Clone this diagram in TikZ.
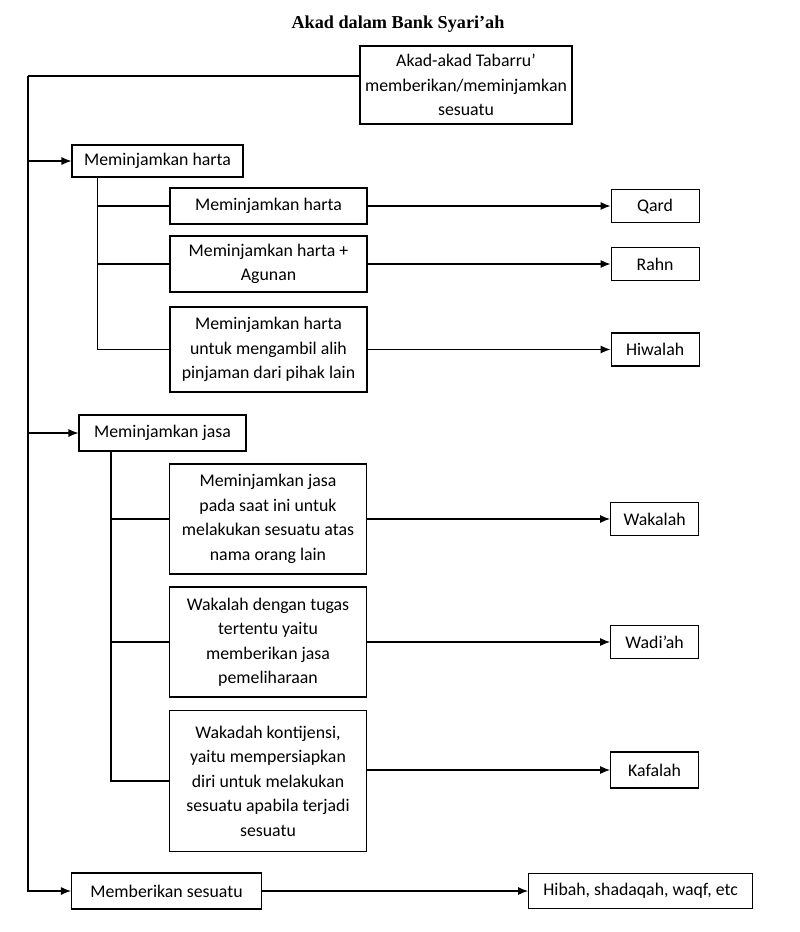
\documentclass[tikz,border=0pt]{standalone}
\usepackage{fontspec}
\setmainfont{Carlito}
\newfontfamily\titlefont{Liberation Serif}
\usetikzlibrary{positioning, arrows.meta}
\tikzstyle{box} = [rectangle, draw=black, line width=1.1pt, text centered, align=center, inner sep=2pt, font=\fontsize{17.8}{24.5}\selectfont]
\tikzstyle{group} = [box, minimum height=34pt]
\tikzstyle{item} = [box, minimum width=197pt]
\tikzstyle{result} = [box, minimum width=88pt, minimum height=33pt]
\tikzstyle{link} = [line width=1.1pt]
\tikzstyle{arrow} = [line width=1.1pt, -{Latex[length=10pt,width=8pt]}]

\begin{document}
\begin{tikzpicture}[x=1pt,y=1pt]
		\useasboundingbox (0,0) rectangle (800,-932);
		\node (title) at (398,-24) {\titlefont\bfseries\fontsize{18.2}{22}\selectfont Akad dalam Bank Syari’ah};
		\node (root) [box, minimum width=212pt, minimum height=78pt] at (466,-85) {Akad-akad Tabarru’\\memberikan/meminjamkan\\sesuatu};
		% meminjamkan harta
		\node (harta) [group, minimum width=171pt, minimum height=32pt] at (157.5,-161) {Meminjamkan harta};
		\node (h1) [item, minimum height=36pt] at (268.5,-206) {Meminjamkan harta};
		\node (h2) [item, minimum height=56pt] at (268.5,-264) {Meminjamkan harta +\\Agunan};
		\node (h3) [item, minimum height=85pt] at (268.5,-349.5) {Meminjamkan harta\\untuk mengambil alih\\pinjaman dari pihak lain};
		\node (qard) [result, right=243pt of h1] {Qard};
		\node (rahn) [result, right=243pt of h2] {Rahn};
		\node (hiwalah) [result, right=243pt of h3] {Hiwalah};
		% meminjamkan jasa
		\node (jasa) [group, minimum width=167pt, minimum height=36pt] at (162.5,-433) {Meminjamkan jasa};
		\node (j1) [item, minimum height=110pt] at (268,-519) {Meminjamkan jasa\\pada saat ini untuk\\melakukan sesuatu atas\\nama orang lain};
		\node (j2) [item, minimum height=110pt] at (268,-642) {Wakalah dengan tugas\\tertentu yaitu\\memberikan jasa\\pemeliharaan};
		\node (j3) [item, minimum height=141pt] at (268,-781) {Wakadah kontijensi,\\yaitu mempersiapkan\\diri untuk melakukan\\sesuatu apabila terjadi\\sesuatu};
		\node (wakalah) [result, right=243pt of j1] {Wakalah};
		\node (wadiah) [result, right=243pt of j2] {Wadi’ah};
		\node (kafalah) [result, minimum height=36pt, right=243pt of j3, yshift=11pt] {Kafalah};
		% memberikan sesuatu
		\node (beri) [group, minimum width=190pt, minimum height=36pt] at (166.5,-891) {Memberikan sesuatu};
		\node (hibah) [result, minimum width=224pt, minimum height=35pt, right=266pt of beri] {Hibah, shadaqah, waqf, etc};
		\coordinate (trunk) at (28,-76);
		\coordinate (hs) at ([xshift=-60pt]harta.south);
		\coordinate (js) at ([xshift=-51.5pt]jasa.south);
		\draw [link] ([yshift=9pt]root.west) -- (trunk);
		\draw [arrow] (trunk) |- (harta);
		\draw [arrow] (trunk) |- (jasa);
		\draw [arrow] (trunk) |- (beri);
		\draw [link] (hs) |- (h1);
		\draw [link] (hs) |- (h2);
		\draw [link] (hs) |- (h3);
		\draw [link] (js) |- (j1);
		\draw [link] (js) |- (j2);
		\draw [link] (js) |- (j3);
		\draw [arrow] (h1) -- (qard);
		\draw [arrow] (h2) -- (rahn);
		\draw [arrow] (h3) -- (hiwalah);
		\draw [arrow] (j1) -- (wakalah);
		\draw [arrow] (j2) -- (wadiah);
		\draw [arrow] (j3.east |- kafalah) -- (kafalah);
		\draw [arrow] (beri) -- (hibah);
		\end{tikzpicture}
\end{document}
